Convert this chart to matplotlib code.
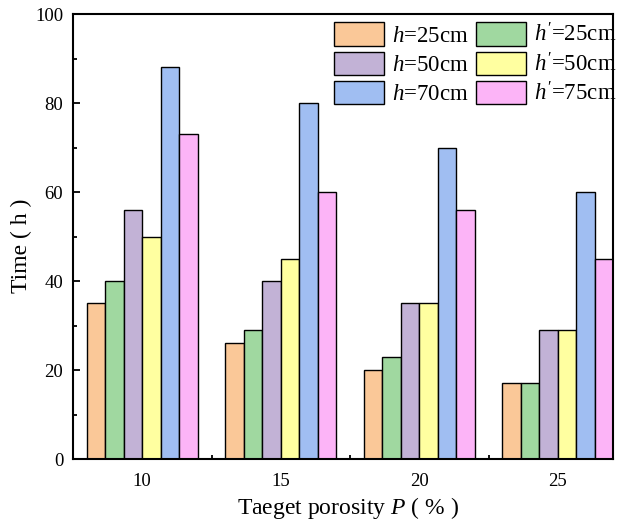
import numpy as np
import matplotlib
matplotlib.use("Agg")
import matplotlib.pyplot as plt

plt.rcParams['font.family'] = 'Liberation Serif'
plt.rcParams['mathtext.fontset'] = 'custom'
plt.rcParams['mathtext.rm'] = 'Liberation Serif'
plt.rcParams['mathtext.it'] = 'Liberation Serif:italic'

porosity = [10, 15, 20, 25]
labels = ["$h$=25cm", "$h'$=25cm", "$h$=50cm", "$h'$=50cm", "$h$=70cm", "$h'$=75cm"]
values = [
    [35, 26, 20, 17],   # h=25
    [40, 29, 23, 17],   # h'=25
    [56, 40, 35, 29],   # h=50
    [50, 45, 35, 29],   # h'=50
    [88, 80, 70, 60],   # h=70
    [73, 60, 56, 45],   # h'=75
]
colors = ['#FAC898', '#A0D8A0', '#C2B2D6', '#FFFFA0', '#A0BEF2', '#FCB4F7']

fig = plt.figure(figsize=(6.26, 5.21), dpi=100)
ax = fig.add_axes([0.1166, 0.119, 0.863, 0.854])

w = 4.0 / 6
x = np.array(porosity, dtype=float)
bars = []
for i in range(6):
    b = ax.bar(x + (i - 2.5) * w, values[i], width=w, color=colors[i],
               edgecolor='black', linewidth=1.0, label=labels[i], zorder=2)
    bars.append(b)

ax.set_xlim(7.5, 27)
ax.set_ylim(0, 100)
ax.set_xticks(porosity)
ax.set_xticks([12.5, 17.5, 22.5], minor=True)
ax.set_yticks(range(0, 101, 20))
ax.set_yticks(range(10, 100, 20), minor=True)
ax.tick_params(which='both', direction='in', labelsize=13.5, width=1.3)
ax.tick_params(which='major', length=5)
ax.tick_params(which='minor', length=3)
ax.tick_params(axis='x', pad=10)
ax.tick_params(axis='y', pad=7)
for s in ax.spines.values():
    s.set_linewidth(1.5)
    s.set_zorder(3)

ax.set_xlabel("Taeget porosity $P$ ( % )", fontsize=17)
ax.set_ylabel("Time ( h )", fontsize=17)
ax.xaxis.set_label_coords(0.51, -0.082)
ax.yaxis.set_label_coords(-0.075, 0.48)

order = [0, 2, 4, 1, 3, 5]
leg = ax.legend([bars[i] for i in order], [labels[i] for i in order],
                ncol=2, loc='upper right', frameon=False, fontsize=16.5,
                handlelength=2.2, handleheight=1.2, columnspacing=0.3,
                handletextpad=0.35, labelspacing=0.2,
                bbox_to_anchor=(1.032, 1.012), borderaxespad=0.2)

fig.savefig("out.png", dpi=100)
